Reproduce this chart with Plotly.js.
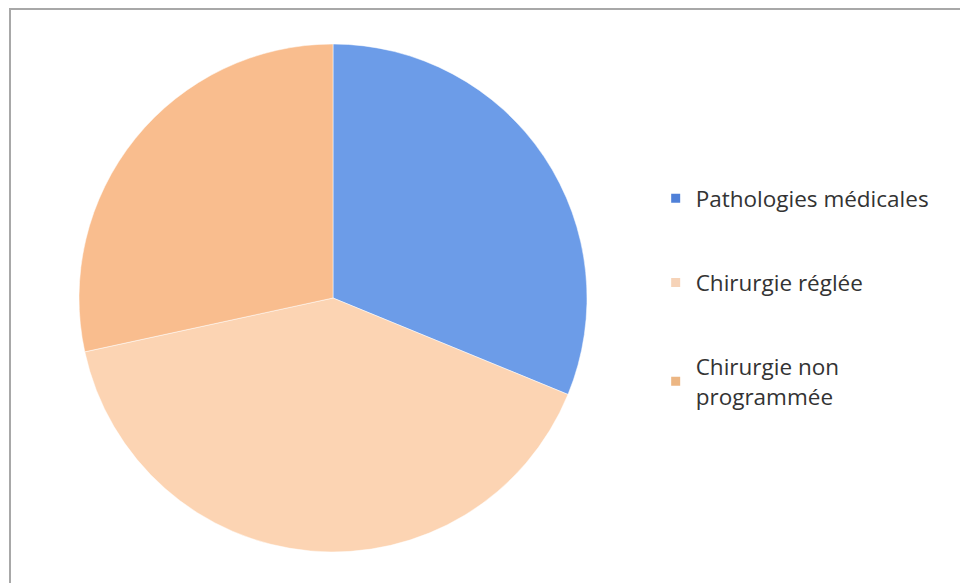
<!DOCTYPE html>
<html>
<head>
<meta charset="utf-8">
<script src="https://cdn.plot.ly/plotly-3.0.1.min.js"></script>
<style>
html,body{margin:0;padding:0;background:#fff;overflow:hidden;width:960px;height:583px;}
#frame{position:absolute;left:9px;top:8px;width:1000px;height:700px;border-left:2px solid #a8a8a8;border-top:2px solid #a8a8a8;box-sizing:border-box;}
#chart{position:absolute;left:0;top:0;width:960px;height:583px;}
</style>
</head>
<body>
<div id="frame"></div>
<div id="chart"></div>
<script>
const categories = ["Pathologies médicales", "Chirurgie réglée", "Chirurgie non<br>programmée"];
const values = [31.2, 40.4, 28.4];
const sliceColors = ["#6c9ce8", "#fcd4b3", "#f9bd8e"];
const legendColors = ["#4f80d8", "#f6d3b8", "#ecb683"];

const traces = [{
  type: "pie",
  labels: categories,
  values: values,
  sort: false,
  direction: "clockwise",
  rotation: 0,
  textinfo: "none",
  hoverinfo: "label+percent",
  showlegend: false,
  marker: {colors: sliceColors, line: {color: "#ffffff", width: 0.5}},
  domain: {x: [79/960, 587/960], y: [31/583, 539/583]}
}];
categories.forEach((c, i) => {
  traces.push({
    type: "scatter", mode: "markers", x: [null], y: [null],
    name: c, legendgroup: "g" + i, showlegend: true,
    marker: {symbol: "square", size: 9, color: legendColors[i]}
  });
});

const layout = {
  width: 960, height: 583,
  margin: {l: 0, r: 0, t: 0, b: 0},
  paper_bgcolor: "rgba(0,0,0,0)",
  plot_bgcolor: "rgba(0,0,0,0)",
  xaxis: {visible: false}, yaxis: {visible: false},
  showlegend: true,
  legend: {
    x: 0.683, xanchor: "left", y: 1 - 177/583, yanchor: "top",
    font: {family: "Open Sans", size: 22.5, color: "#333333"},
    tracegroupgap: 52, itemwidth: 30, bgcolor: "rgba(0,0,0,0)"
  }
};
Plotly.newPlot("chart", traces, layout, {displayModeBar: false, staticPlot: true});
</script>
</body>
</html>
